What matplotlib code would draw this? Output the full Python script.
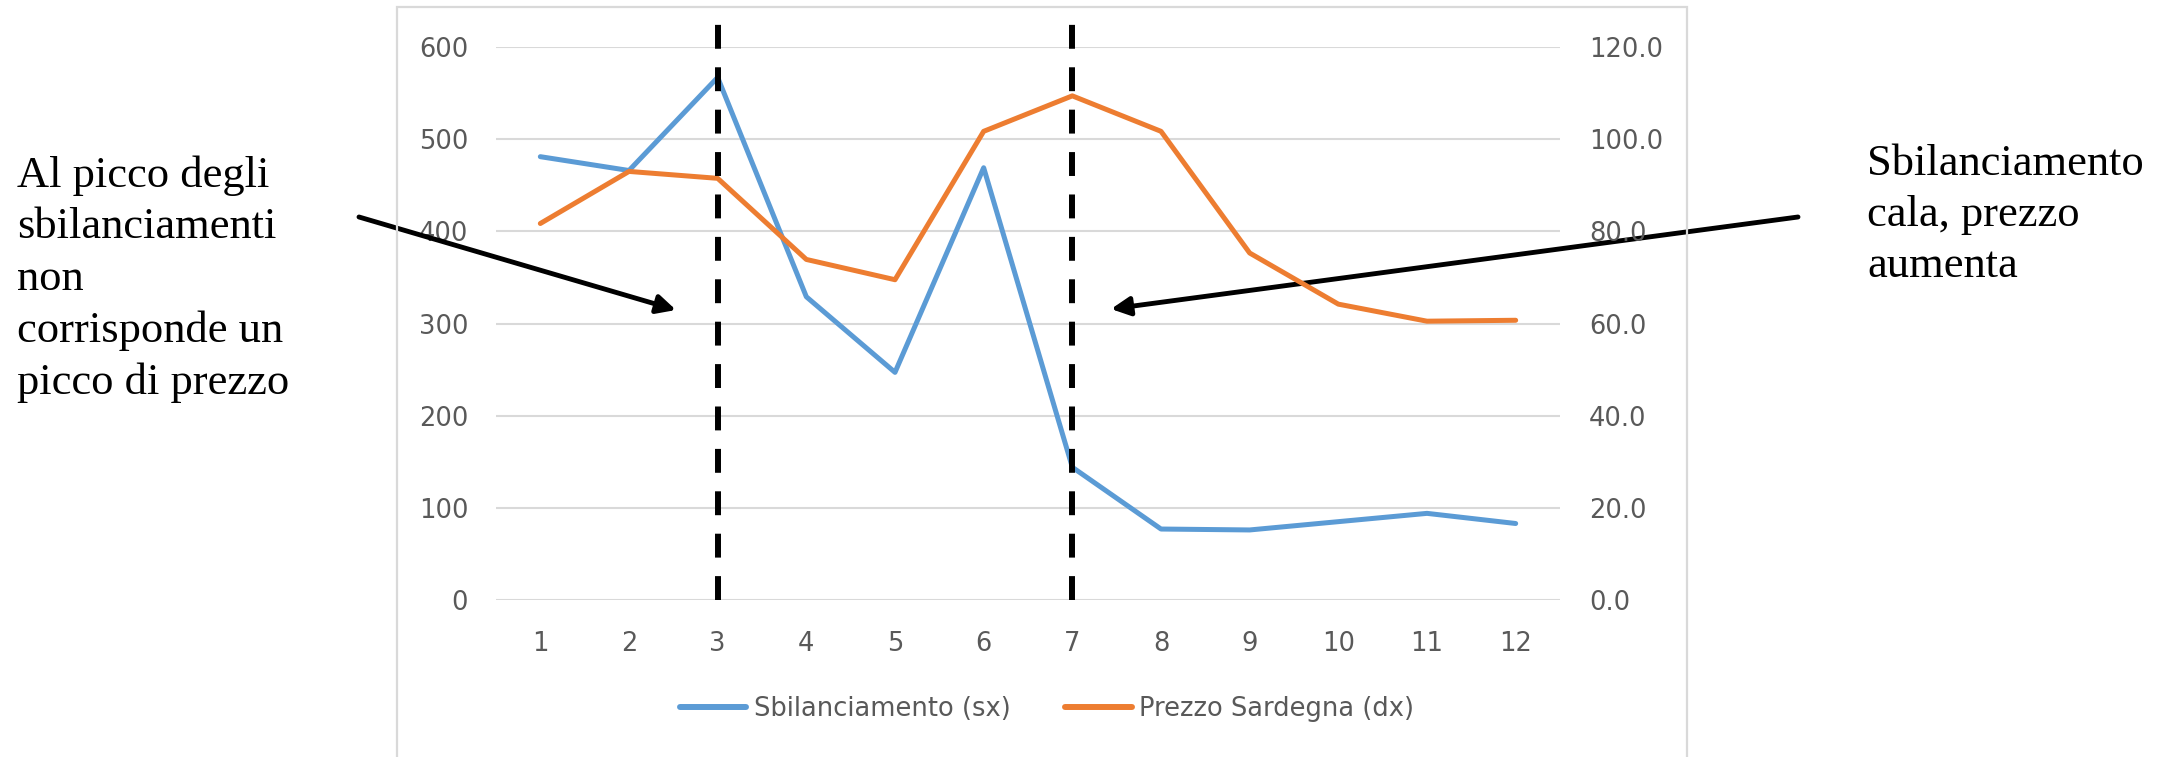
import matplotlib
matplotlib.use("Agg")
import matplotlib.pyplot as plt
from matplotlib.patches import Rectangle

# monthly data
mesi = list(range(1, 13))
sbilanciamento = [481, 466, 567, 329, 247, 469, 144, 77, 76, 85, 94, 83]
prezzo_sardegna = [81.7, 93.0, 91.5, 73.9, 69.5, 101.7, 109.4, 101.7, 75.3, 64.2, 60.5, 60.7]
left_ticks = [0, 100, 200, 300, 400, 500, 600]
right_ticks = [0, 20, 40, 60, 80, 100, 120]
mesi_evidenziati = [3, 7]

BLUE = '#5B9BD5'
ORANGE = '#ED7D31'
GRID = '#D9D9D9'
TICK = '#595959'
W, H = 2172, 757

plt.rcParams['font.family'] = ['DejaVu Sans']

fig = plt.figure(figsize=(W / 100, H / 100), dpi=100)

# chart frame, open at the bottom
fig.patches.append(Rectangle((397 / W, -0.05), (1687 - 397) / W, 1 - 7 / H + 0.05,
                             transform=fig.transFigure, fill=False,
                             edgecolor=GRID, linewidth=1.6, zorder=0))

ax = fig.add_axes([496 / W, 1 - 600 / H, 1064 / W, 553 / H])
ax2 = ax.twinx()

ax.set_xlim(0.5, 12.5)
ax.set_ylim(0, 600)
ax2.set_ylim(0, 120)
ax.set_yticks(left_ticks)
ax2.set_yticks(right_ticks)
ax2.set_yticklabels(['%.1f' % v for v in right_ticks])
ax.set_xticks(mesi)

for a in (ax, ax2):
    for s in a.spines.values():
        s.set_visible(False)
    a.tick_params(length=0, labelsize=18.5, labelcolor=TICK)
ax.tick_params(axis='y', pad=20)
ax2.tick_params(axis='y', pad=21)
ax.tick_params(axis='x', pad=22)
ax.grid(axis='y', color=GRID, linewidth=1.5)
ax.set_axisbelow(True)

l1, = ax.plot(mesi, sbilanciamento, color=BLUE, linewidth=3.6,
              solid_capstyle='round', zorder=3)
l2, = ax2.plot(mesi, prezzo_sardegna, color=ORANGE, linewidth=3.6,
               solid_capstyle='round', zorder=3)

# vertical markers on the key months
for m in mesi_evidenziati:
    ax2.plot([m, m], [0, 125.3], color='black', linewidth=4.3,
             linestyle=(0, (4.0, 3.1)), clip_on=False, zorder=5)

leg = fig.legend([l1, l2], ['Sbilanciamento (sx)', 'Prezzo Sardegna (dx)'],
                 loc='center', bbox_to_anchor=(1047 / W, 1 - 709 / H), ncol=2,
                 frameon=False, fontsize=18.5, handlelength=2.6, handletextpad=0.3,
                 columnspacing=2.1, labelcolor=TICK)
for h in leg.legend_handles:
    h.set_linewidth(4.3)

# side notes
serif = ['Liberation Serif', 'DejaVu Serif']
fig.text(17 / W, 1 - 279 / H,
         'Al picco degli\nsbilanciamenti\nnon\ncorrisponde un\npicco di prezzo',
         family=serif, fontsize=32, va='center', ha='left', linespacing=1.37)
fig.text(1867 / W, 1 - 215 / H, 'Sbilanciamento\ncala, prezzo\naumenta',
         family=serif, fontsize=32, va='center', ha='left', linespacing=1.37)

arrow = dict(arrowstyle='-|>', color='black', lw=3.5, mutation_scale=28,
             shrinkA=0, shrinkB=0)
ax.annotate('', xy=(676, H - 310), xytext=(359, H - 217),
            xycoords='figure pixels', textcoords='figure pixels',
            arrowprops=arrow)
ax.annotate('', xy=(1111, H - 309), xytext=(1798, H - 217),
            xycoords='figure pixels', textcoords='figure pixels',
            arrowprops=arrow)

fig.savefig('out.png', dpi=100)
